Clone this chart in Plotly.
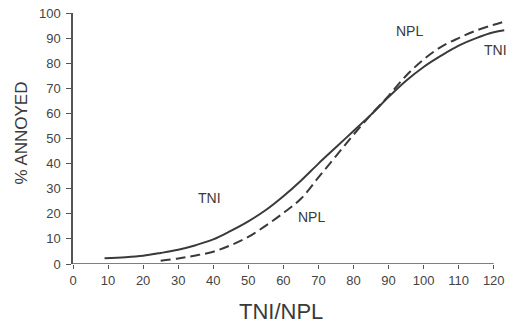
import plotly.graph_objects as go

# TNI curve (solid)
tni_x = [9, 15, 20, 25, 30, 35, 40, 45, 50, 55, 60, 65, 70, 75, 80, 85, 90, 95, 100, 105, 110, 115, 120, 123]
tni_y = [2.3, 2.7, 3.3, 4.4, 5.7, 7.5, 9.8, 13.2, 17.0, 21.5, 27.0, 33.2, 40.0, 46.5, 53.0, 59.5, 66.5, 73.0, 78.5, 83.0, 87.0, 90.0, 92.3, 93.1]

# NPL curve (dashed)
npl_x = [25, 30, 35, 40, 45, 50, 55, 60, 65, 70, 75, 80, 85, 90, 95, 100, 105, 110, 115, 120, 122.6]
npl_y = [1.3, 2.2, 3.4, 4.9, 7.5, 10.8, 15.3, 20.3, 26.0, 34.5, 43.0, 51.5, 59.5, 67.0, 75.0, 81.5, 86.5, 90.0, 93.0, 95.3, 96.4]

x_ticks = [0, 10, 20, 30, 40, 50, 60, 70, 80, 90, 100, 110, 120]
y_ticks = [0, 10, 20, 30, 40, 50, 60, 70, 80, 90, 100]

labels = [
    ("TNI", 39, 26.3),
    ("NPL", 68, 18.7),
    ("NPL", 96, 92.8),
    ("TNI", 120.5, 85.3),
]

X_MAX = 123.5
ink = "#3a3a3a"
font_family = "Liberation Sans, Arial, sans-serif"

fig = go.Figure()
fig.add_trace(go.Scatter(x=tni_x, y=tni_y, mode="lines", line=dict(color=ink, width=2, shape="spline"),
                         showlegend=False, hoverinfo="skip"))
fig.add_trace(go.Scatter(x=npl_x, y=npl_y, mode="lines", line=dict(color=ink, width=2, dash="10px,5px", shape="spline"),
                         showlegend=False, hoverinfo="skip"))

for txt, lx, ly in labels:
    fig.add_annotation(xref="paper", yref="paper", x=lx / X_MAX, y=ly / 100, text=txt, showarrow=False,
                       xanchor="center", yanchor="middle",
                       font=dict(family=font_family, size=14, color=ink))

# x axis line from 0 to 120
fig.add_shape(type="line", x0=0, x1=120, y0=0, y1=0, xref="x", yref="y",
              line=dict(color="#555555", width=1.5))

fig.add_annotation(xref="paper", yref="paper", x=(281 - 73) / 433, y=(264 - 311) / 251,
                   text="TNI/NPL", showarrow=False, xanchor="center", yanchor="middle",
                   font=dict(family=font_family, size=22, color=ink))
fig.add_annotation(xref="paper", yref="paper", x=(21 - 73) / 433, y=(264 - 133.5) / 251,
                   text="% ANNOYED", showarrow=False, textangle=-90, xanchor="center", yanchor="middle",
                   font=dict(family=font_family, size=17, color=ink))

fig.update_layout(
    width=518, height=324,
    margin=dict(l=73, r=12, t=13, b=60, autoexpand=False),
    paper_bgcolor="white", plot_bgcolor="white",
    xaxis=dict(range=[0, X_MAX], tickvals=x_ticks, ticktext=[str(v) for v in x_ticks],
               automargin=False,
               showgrid=False, zeroline=False, showline=False,
               ticks="outside", ticklen=4, tickwidth=1.2, tickcolor="#555555",
               tickfont=dict(family=font_family, size=13, color="#444444")),
    yaxis=dict(range=[0, 100], tickvals=y_ticks, ticktext=[str(v) for v in y_ticks],
               automargin=False,
               showgrid=False, zeroline=False, showline=True, linecolor="#555555", linewidth=1.5,
               ticks="outside", ticklen=5, tickwidth=1.2, tickcolor="#555555", ticklabelstandoff=3,
               tickfont=dict(family=font_family, size=13, color="#444444")),
)

fig.write_html("out.html", config={"displayModeBar": False},
               post_script="document.body.style.margin='0';document.body.style.overflow='hidden';")
